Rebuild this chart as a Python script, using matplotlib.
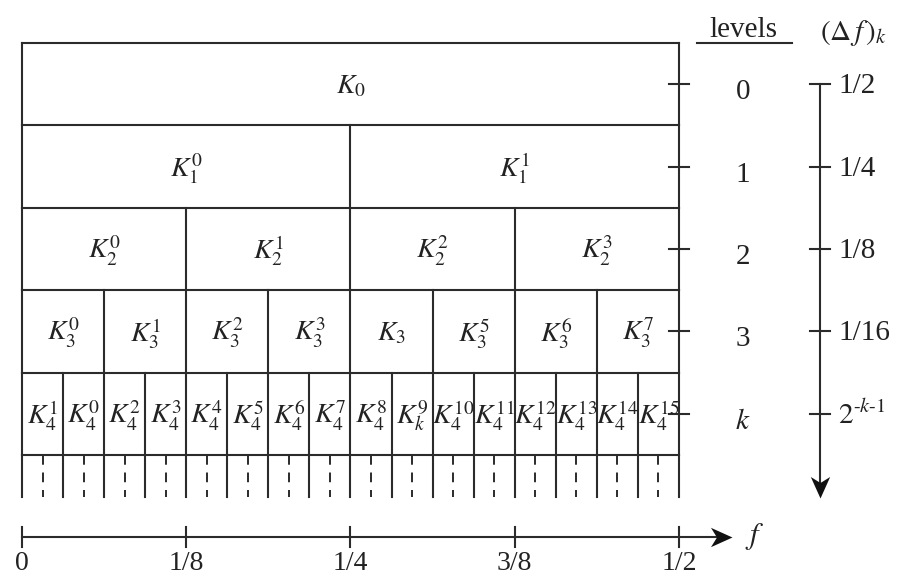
"""
Wavelet packet frequency tiling: nodes K_j^n at each decomposition level,
with the level index and the bandwidth (Δf)_k of each level on the right.
"""

import matplotlib.pyplot as plt
from matplotlib.path import Path
from matplotlib.transforms import Affine2D

plt.rcParams["mathtext.fontset"] = "stix"
plt.rcParams["font.family"] = ["Liberation Serif", "DejaVu Serif"]

# node labels per level (level 0 .. level 4)
node_labels = [
    [r"$K_{0}$"],
    [r"$K_{1}^{0}$", r"$K_{1}^{1}$"],
    [r"$K_{2}^{0}$", r"$K_{2}^{1}$", r"$K_{2}^{2}$", r"$K_{2}^{3}$"],
    [r"$K_{3}^{0}$", r"$K_{3}^{1}$", r"$K_{3}^{2}$", r"$K_{3}^{3}$",
     r"$K_{3}$", r"$K_{3}^{5}$", r"$K_{3}^{6}$", r"$K_{3}^{7}$"],
    [r"$K_{4}^{1}$", r"$K_{4}^{0}$", r"$K_{4}^{2}$", r"$K_{4}^{3}$",
     r"$K_{4}^{4}$", r"$K_{4}^{5}$", r"$K_{4}^{6}$", r"$K_{4}^{7}$",
     r"$K_{4}^{8}$", r"$K_{k}^{9}$", r"$K_{4}^{10}$", r"$K_{4}^{11}$",
     r"$K_{4}^{12}$", r"$K_{4}^{13}$", r"$K_{4}^{14}$", r"$K_{4}^{15}$"],
]
level_labels = ["0", "1", "2", "3", r"$k$"]
bandwidth_labels = ["1/2", "1/4", "1/8", "1/16", r"$2^{\text{-}k\text{-}1}$"]
freq_ticks = [0, 1/8, 1/4, 3/8, 1/2]
freq_tick_labels = ["0", "1/8", "1/4", "3/8", "1/2"]
f_max = 0.5

line_c = "#2b2b2b"
text_c = "#222222"
lw = 1.5

fig = plt.figure(figsize=(9.01, 5.81), dpi=100)
ax = fig.add_axes([0, 0, 1, 1])
# x in frequency units, y in level rows (row j spans j..j+1)
px_x = 1314.0   # pixels per unit of f
px_y = 82.4     # pixels per level row
x0, y0 = 22, 43
ax.set_xlim(-x0 / px_x, (901 - x0) / px_x)
ax.set_ylim((581 - y0) / px_y, -y0 / px_y)
ax.axis("off")

n_levels = len(node_labels)
dx = lambda p: p / px_x
dy = lambda p: p / px_y

# horizontal row borders
for j in range(n_levels + 1):
    ax.plot([0, f_max], [j, j], color=line_c, lw=lw, solid_capstyle="projecting")

# vertical cell borders and node labels
for j, labels in enumerate(node_labels):
    n = len(labels)
    w = f_max / n
    for i in range(n + 1):
        ax.plot([i * w, i * w], [j, j + 1], color=line_c, lw=lw)
    for i, lab in enumerate(labels):
        ax.text((i + 0.5) * w, j + 0.5 + dy(2), lab, ha="center", va="center",
                fontsize=20, color=text_c)

# continuation row below the last level
n_last = len(node_labels[-1])
w_last = f_max / n_last
bottom = n_levels + dy(42)
for i in range(n_last + 1):
    ax.plot([i * w_last, i * w_last], [n_levels, bottom], color=line_c, lw=lw)
for i in range(n_last):
    ax.plot([(i + 0.5) * w_last] * 2, [n_levels, bottom], color=line_c, lw=1.4,
            dashes=(5, 4))

# level ticks on the right border and level numbers
lx = f_max + dx(64)
for j, lab in enumerate(level_labels):
    yc = j + 0.5
    ax.plot([f_max - dx(10), f_max + dx(10)], [yc, yc], color=line_c, lw=lw)
    ax.text(lx, yc + dy(8), lab, ha="center", va="center", fontsize=21, color=text_c)
ax.text(lx, -dy(13), "levels", ha="center", va="center", fontsize=21, color=text_c)
ax.plot([f_max + dx(18), f_max + dx(113)], [0, 0], color=line_c, lw=lw)

# bandwidth axis with arrow
bx = f_max + dx(141)
arrow_tip_y = n_levels + dy(43)
ax.plot([bx, bx], [0.5, arrow_tip_y - dy(10)], color=line_c, lw=lw)
head = Path([(0, 0), (-1, 0.45), (-0.72, 0), (-1, -0.45), (0, 0)],
            [Path.MOVETO, Path.LINETO, Path.LINETO, Path.LINETO, Path.CLOSEPOLY])
head_down = head.transformed(Affine2D().rotate_deg(-90))
ax.plot([bx], [arrow_tip_y], marker=head_down, markersize=31, color="#111111",
        markeredgewidth=0)
for j, lab in enumerate(bandwidth_labels):
    yc = j + 0.5
    ax.plot([bx - dx(10), bx + dx(10)], [yc, yc], color=line_c, lw=lw)
    ax.text(bx + dx(18), yc + dy(2), lab, ha="left", va="center", fontsize=21,
            color=text_c)
ax.text(bx + dx(34), -dy(10), r"$(\Delta\,f\,)_{k}$", ha="center", va="center",
        fontsize=21, color=text_c)

# frequency axis
fy = n_levels + dy(82)
f_tip = f_max + dx(53)
ax.plot([0, f_tip - dx(10)], [fy, fy], color=line_c, lw=lw)
ax.plot([f_tip], [fy], marker=head, markersize=31, color="#111111",
        markeredgewidth=0)
for f, lab in zip(freq_ticks, freq_tick_labels):
    ax.plot([f, f], [fy - dy(10), fy + dy(10)], color=line_c, lw=lw)
    ax.text(f, fy + dy(14), lab, ha="center", va="top", fontsize=20, color=text_c)
ax.text(f_tip + dx(23), fy, r"$f$", ha="center", va="center", fontsize=22,
        color=text_c)

fig.savefig("out.png", dpi=100, facecolor="white")
